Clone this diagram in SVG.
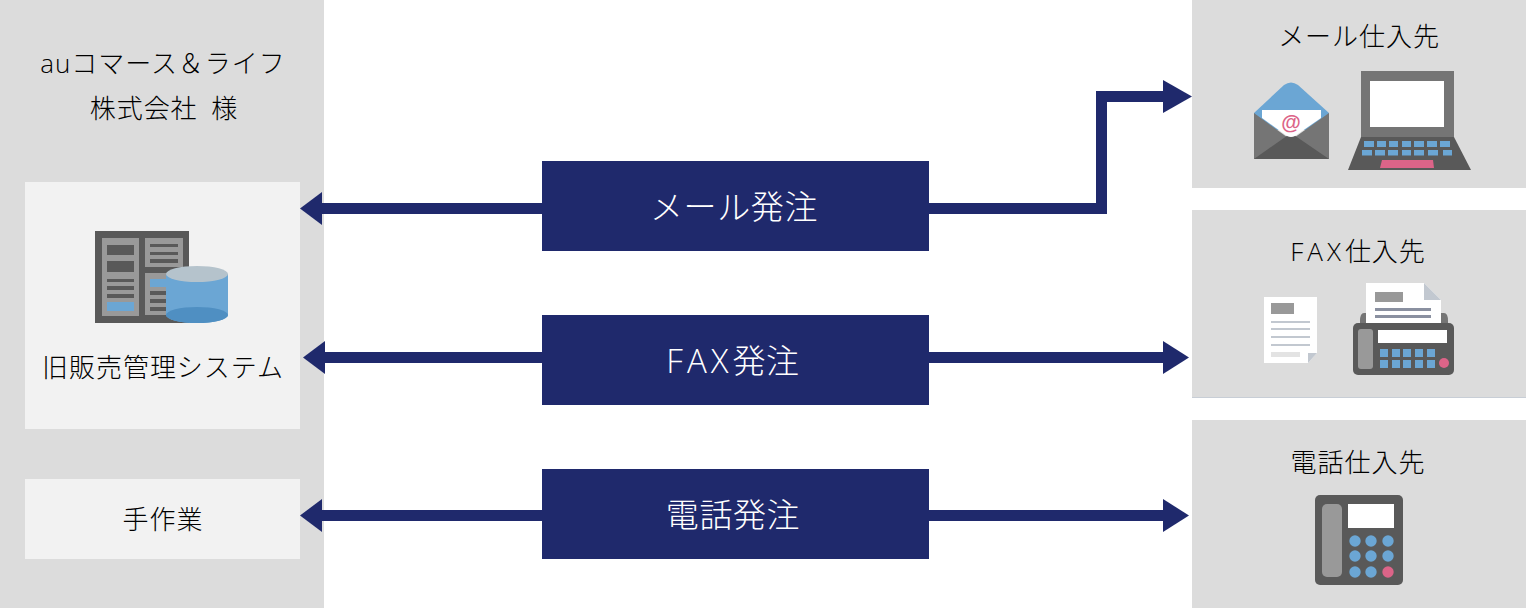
<svg xmlns="http://www.w3.org/2000/svg" width="1526" height="608" viewBox="0 0 1526 608">
<style>
text{font-family:"Open Sans","Noto Sans CJK JP",sans-serif;text-anchor:middle;font-weight:300}
.t{font-size:26px;fill:#000;letter-spacing:.95px}
.w{font-size:33px;fill:#fff;letter-spacing:.6px}
.f{letter-spacing:4px}
.p{fill:#dcdcdc}.l{fill:#f2f2f2}.n{fill:#1f296c}
.c{fill:none;stroke:#1f296c;stroke-width:11}
.d{fill:#595959}.g{fill:#757575}.m{fill:#999}.b{fill:#6ba6d4}.r{fill:#dc6488}.x{fill:#fff}.s{fill:#c2c8d0}
</style>
<defs>
<marker id="al" markerUnits="userSpaceOnUse" markerWidth="22" markerHeight="33" refX="0" refY="16.500" orient="auto"><path d="M0 0L22 16.500L0 33z" fill="#1f296c"/></marker>
<marker id="ar" markerUnits="userSpaceOnUse" markerWidth="26" markerHeight="33" refX="0" refY="16.500" orient="auto"><path d="M0 0L26 16.500L0 33z" fill="#1f296c"/></marker>
<marker id="at" markerUnits="userSpaceOnUse" markerWidth="29" markerHeight="33" refX="0" refY="16.500" orient="auto"><path d="M0 0L29 16.500L0 33z" fill="#1f296c"/></marker>
</defs>
<g id="panel-buyer"><rect class="p" width="324" height="608"/><text class="t" x="163" y="73">auコマース＆ライフ</text><text class="t" x="164" y="118">株式会社 <tspan dx="6">様</tspan></text></g>
<g id="node-system"><rect class="l" x="25" y="182" width="275" height="247"/>
<rect class="d" x="95" y="231" width="94" height="92"/>
<rect class="m" x="102" y="238" width="37" height="78"/><rect class="m" x="145" y="238" width="38" height="29"/><rect class="m" x="145" y="273" width="38" height="42"/>
<path class="d" d="M107 245h27v10h-27zM107 261h27v11h-27zM107 279h27v3h-27zM107 286h27v4h-27zM107 294h27v4h-27zM150 244h28v3h-28zM150 252h28v3h-28zM150 259h28v4h-28zM150 291h20v4h-20zM150 299h20v4h-20zM150 307h20v4h-20z"/>
<rect class="b" x="107" y="302" width="27" height="9"/><rect class="b" x="150" y="279" width="20" height="8"/>
<path class="b" d="M166 274h62v41a31 8 0 0 1-62 0z"/><ellipse cx="197" cy="315" rx="31" ry="8" fill="#4f8fc2"/><ellipse cx="197" cy="274" rx="31" ry="8" fill="#b5c3cc"/>
<text class="t" x="163" y="377">旧販売管理システム</text></g>
<g id="node-manual"><rect class="l" x="25" y="479" width="275" height="80"/><text class="t" x="163" y="529">手作業</text></g>
<g id="connectors">
<path class="c" d="M542 208.500H322" marker-end="url(#al)"/>
<path class="c" d="M929 208.500H1101.500V96.500H1163" marker-end="url(#at)"/>
<path class="c" d="M542 357.500H325" marker-end="url(#al)"/>
<path class="c" d="M929 357.500H1163" marker-end="url(#ar)"/>
<path class="c" d="M542 515.500H322" marker-end="url(#al)"/>
<path class="c" d="M929 515.500H1163" marker-end="url(#ar)"/>
</g>
<g id="node-mail-order"><rect class="n" x="542" y="161" width="387" height="90"/><text class="w" x="734" y="219">メール発注</text></g>
<g id="node-fax-order"><rect class="n" x="542" y="315" width="387" height="90"/><text class="w" x="733" y="373"><tspan class="f">FAX</tspan>発注</text></g>
<g id="node-phone-order"><rect class="n" x="542" y="469" width="387" height="90"/><text class="w" x="733" y="527">電話発注</text></g>
<g id="node-mail-supplier"><rect class="p" x="1192" width="334" height="188"/><text class="t" x="1359" y="46">メール仕入先</text>
<path class="b" d="M1254 113L1284 85Q1291 80 1298 85L1329 113V130H1254z"/>
<path class="g" d="M1254 113L1291 140L1329 113V159H1254z"/><path class="d" d="M1254 159L1291 133L1329 159z"/>
<path class="x" d="M1262 110H1321V118L1295 136Q1291 138 1287 136L1262 118z"/>
<text x="1291" y="129" style="font-size:20px;fill:#dc6488;font-family:'Liberation Sans',sans-serif;font-weight:700;letter-spacing:0">@</text>
<rect class="g" x="1361" y="71" width="93" height="67"/><rect class="x" x="1370" y="81" width="74" height="46"/>
<path class="d" d="M1361 137H1454L1471 170H1348z"/>
<path class="b" d="M1364 141h10v6h-10zM1377 141h9v6h-9zM1389 141h9v6h-9zM1402 141h9v6h-9zM1414 141h10v6h-10zM1427 141h10v6h-10zM1440 141h10v6h-10zM1362 150h10v5.500h-10zM1375 150h10v5.500h-10zM1388 150h10v5.500h-10zM1402 150h9v5.500h-9zM1414 150h10v5.500h-10zM1428 150h10v5.500h-10zM1443 150h9v5.500h-9z"/>
<path class="r" d="M1382 160H1433L1434 168H1380z"/></g>
<g id="node-fax-supplier"><rect class="p" x="1192" y="210" width="334" height="188"/><rect x="1192" y="397" width="334" height="1" fill="#c8ced6"/><text class="t" x="1358" y="261"><tspan class="f">FAX</tspan>仕入先</text>
<path class="x" d="M1264 297H1317V353L1308 363H1264z"/><path class="s" d="M1308 363V353H1317z"/>
<rect class="m" x="1271" y="303" width="23" height="11"/><path class="s" d="M1271 321h39v2h-39zM1271 328h39v2h-39zM1271 336h39v2h-39zM1271 344h39v2h-39z"/><rect x="1271" y="352" width="29" height="5" fill="#e3e3e3"/>
<path class="g" d="M1360 321Q1360 313 1364 313H1444Q1448 313 1448 321V330H1360z"/>
<path class="x" d="M1366 283H1424L1441 300V330H1366z"/><path class="s" d="M1424 283V300H1441z"/>
<rect class="m" x="1375" y="292" width="28" height="10"/><path d="M1375 308h56v3h-56zM1375 315h56v3h-56z" fill="#8a90a0"/>
<rect class="d" x="1353" y="323" width="101" height="52" rx="5"/><rect class="m" x="1358" y="329" width="15" height="40" rx="3"/><rect class="x" x="1378" y="330" width="69" height="13"/>
<path class="b" d="M1380 349h8v8h-8zM1392 349h8v8h-8zM1403 349h8v8h-8zM1415 349h8v8h-8zM1427 349h8v8h-8zM1380 360h8v8h-8zM1392 360h8v8h-8zM1403 360h8v8h-8zM1415 360h8v8h-8zM1427 360h8v8h-8z"/><circle class="r" cx="1444" cy="363" r="5"/></g>
<g id="node-phone-supplier"><rect class="p" x="1192" y="420" width="334" height="188"/><text class="t" x="1358" y="472">電話仕入先</text>
<rect class="d" x="1315" y="495" width="88" height="90" rx="5"/><rect class="m" x="1322" y="504" width="20" height="73" rx="5"/><rect class="x" x="1348" y="504" width="46" height="24"/>
<g class="b"><circle cx="1355" cy="541" r="5.700"/><circle cx="1371" cy="541" r="5.700"/><circle cx="1388" cy="541" r="5.700"/><circle cx="1355" cy="556" r="5.700"/><circle cx="1371" cy="556" r="5.700"/><circle cx="1388" cy="556" r="5.700"/><circle cx="1355" cy="572" r="5.700"/><circle cx="1371" cy="572" r="5.700"/></g><circle class="r" cx="1388" cy="572" r="5.700"/></g>
</svg>
